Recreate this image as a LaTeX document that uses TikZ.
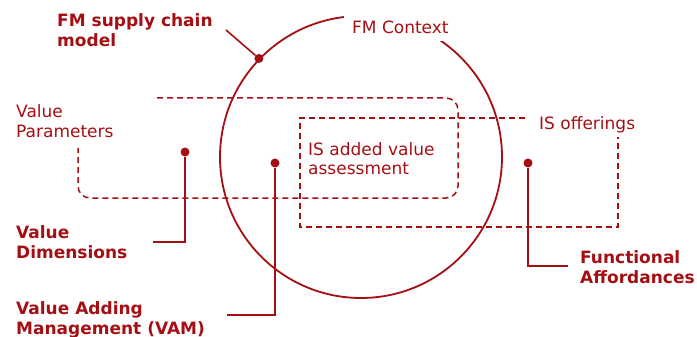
\documentclass[tikz,border=0pt]{standalone}
\usepackage{fontspec}
\setmainfont{DejaVu Sans}
\definecolor{fmred}{RGB}{165,15,20}

\begin{document}
\begin{tikzpicture}[x=1pt,y=-1pt]

\tikzset{
  dot/.style={circle, fill=fmred, inner sep=0pt, minimum size=9pt},
  plain/.style={anchor=base west, inner sep=0pt, align=left, text=fmred, font=\fontsize{17}{20}\selectfont},
  heavy/.style={plain, font=\fontsize{17}{20}\selectfont\bfseries},
  lead/.style={draw=fmred, line width=1.6pt},
  fence/.style={draw=fmred, line width=1.5pt, dash pattern=on 6pt off 4pt}
}

\useasboundingbox (0,0) rectangle (697,337);

\draw[fence, rounded corners=12pt] (157,98) -- (458,98) -- (458,198) -- (78,198) -- (78,148);
\draw[fence] (525,118) -- (300,118) -- (300,227) -- (618,227) -- (618,137);

\node[draw=fmred, line width=1.8pt, circle, minimum size=282pt, inner sep=0pt] (ctx) at (361,157) {};
\node[plain, fill=white, inner xsep=8pt, inner ysep=7pt] (fmctx) at (344,34) {FM Context};

\node[heavy] (fmsc) at (57,47) {FM supply chain\\model};
\node[plain] (vpar) at (16,137) {Value\\Parameters};
\node[plain] (isav) at (308,175) {IS added value\\assessment};
\node[plain] (isoff) at (539,129) {IS offerings};
\node[heavy] (vdim) at (16,258) {Value\\Dimensions};
\node[heavy] (vam) at (16,334) {Value Adding\\Management (VAM)};
\node[heavy] (func) at (580,283) {Functional\\Affordances};

\node[dot] (p_fmsc) at (ctx.136) {};
\node[dot] (p_vdim) at (185,152) {};
\node[dot] (p_vam) at (275,163) {};
\node[dot] (p_func) at (528,163) {};

\coordinate (e_fmsc) at (226,30);
\coordinate (e_vdim) at (153,242);
\coordinate (e_vam) at (227,315);
\coordinate (e_func) at (568,266);

\draw[lead] (p_fmsc) -- (e_fmsc);
\draw[lead] (p_vdim) |- (e_vdim);
\draw[lead] (p_vam) |- (e_vam);
\draw[lead] (p_func) |- (e_func);

\end{tikzpicture}
\end{document}
